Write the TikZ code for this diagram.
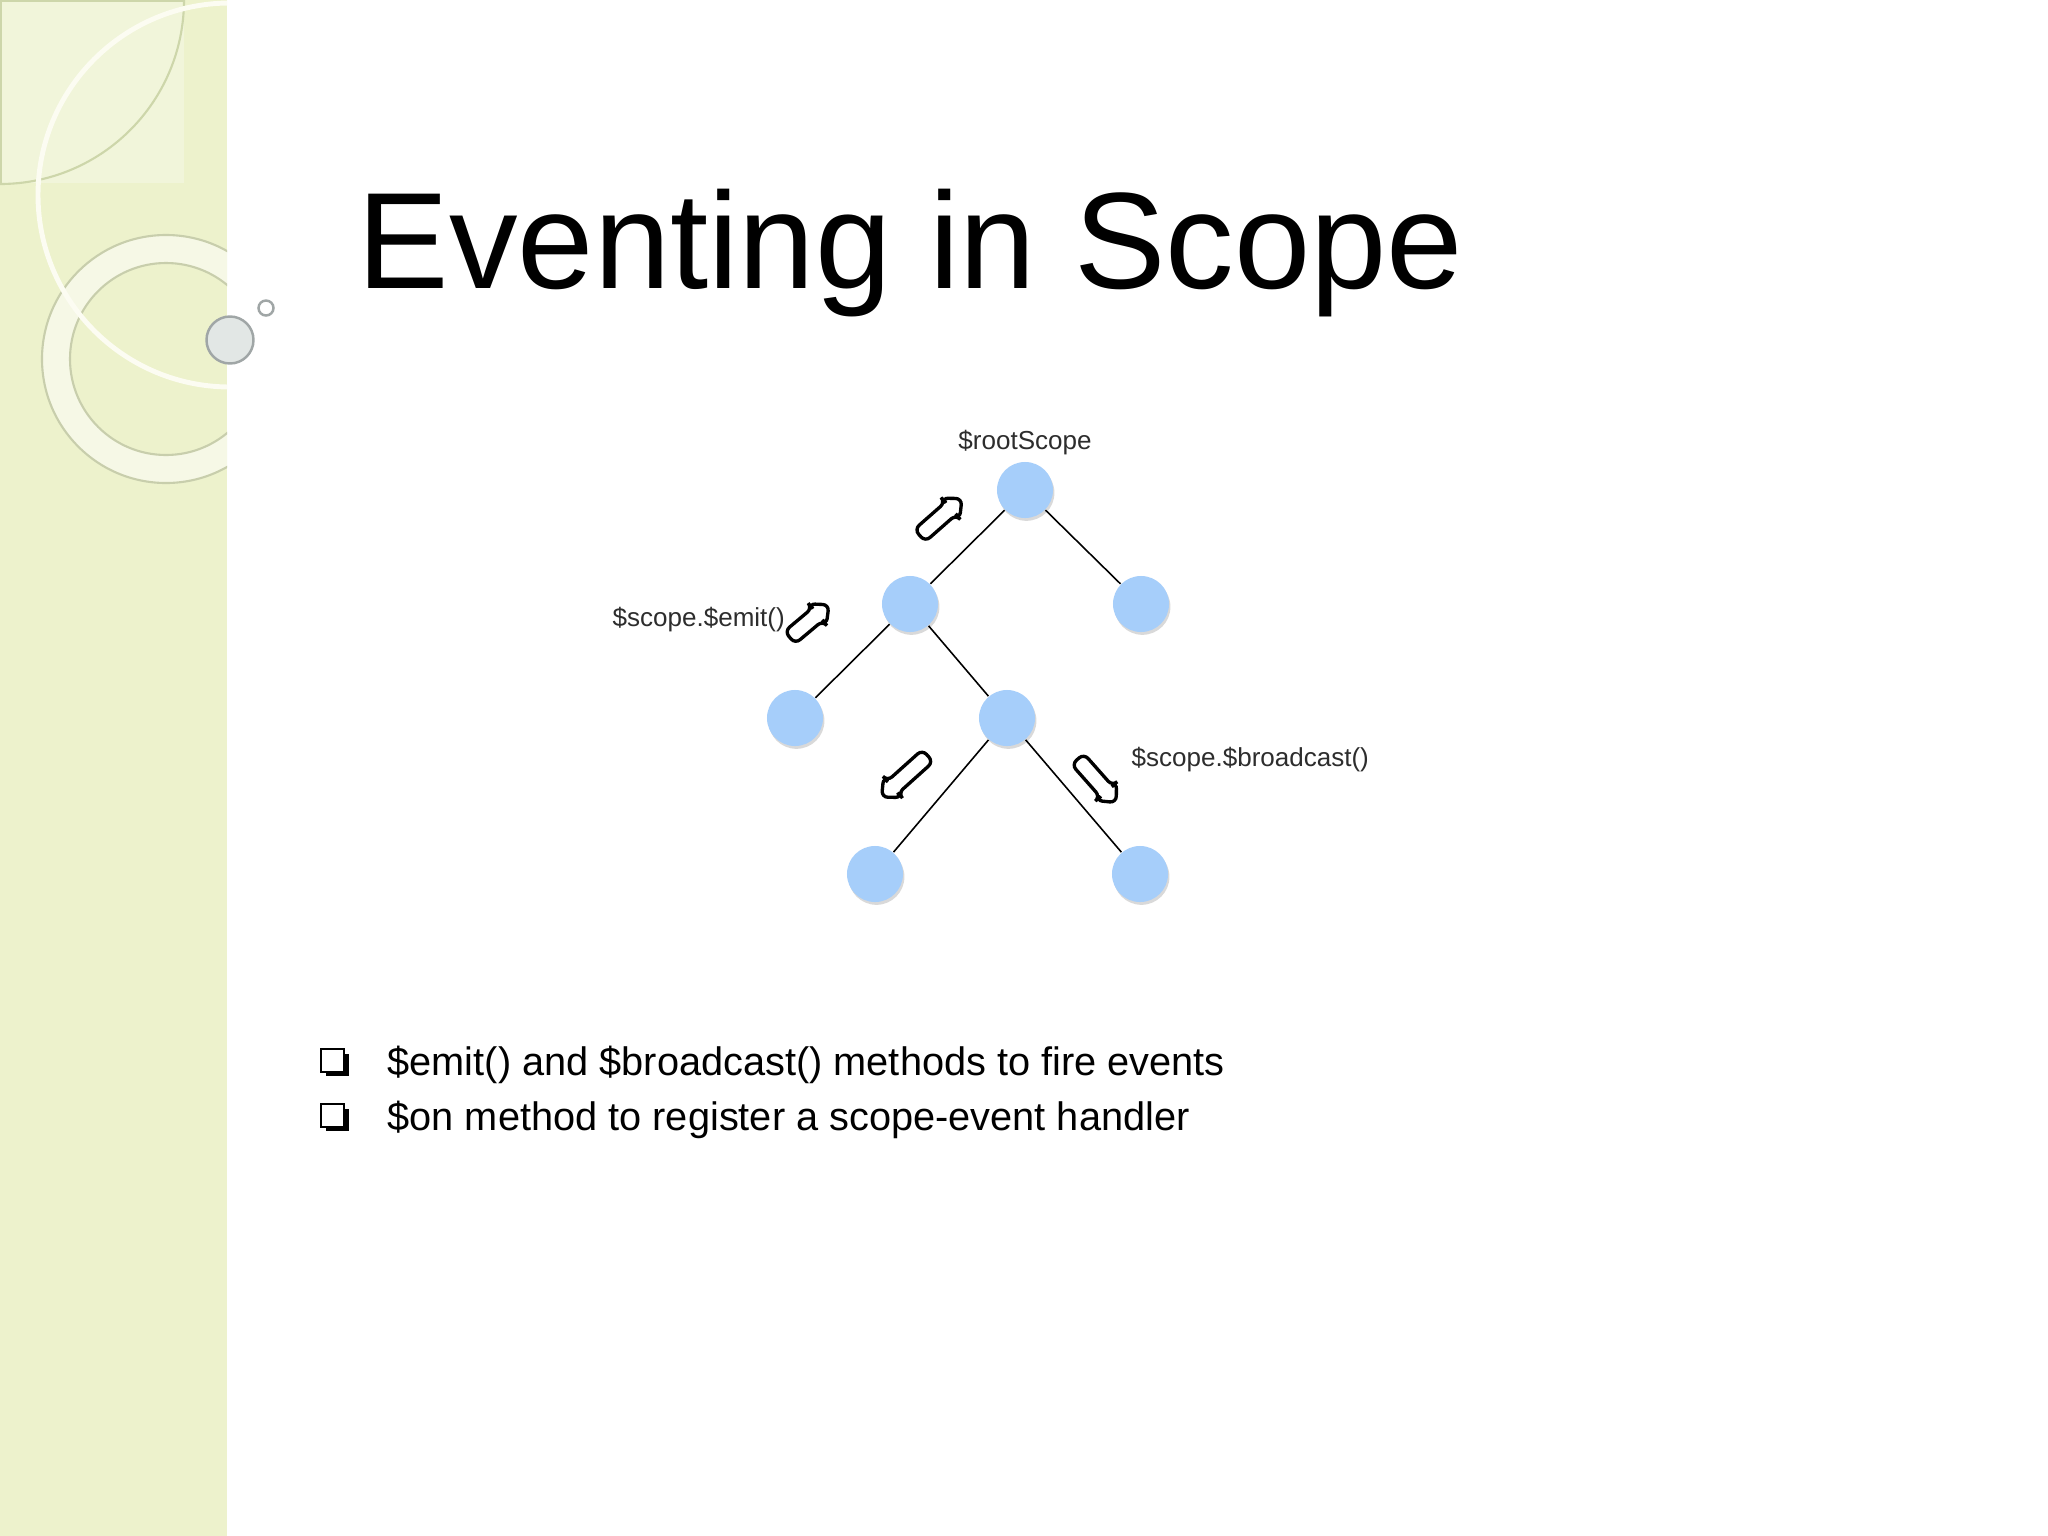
\documentclass[tikz,border=0pt]{standalone}
\usepackage{fontspec}
\setmainfont{Liberation Sans}
\usetikzlibrary{shapes.arrows,shadows}
\definecolor{side}{RGB}{237,242,204}
\definecolor{sqfill}{RGB}{241,245,218}
\definecolor{sqline}{RGB}{205,214,170}
\definecolor{ringfill}{RGB}{246,248,230}
\definecolor{ringline}{RGB}{200,206,172}
\definecolor{arcwhite}{RGB}{252,252,242}
\definecolor{ballfill}{RGB}{226,231,229}
\definecolor{ballline}{RGB}{160,166,166}
\definecolor{nodeblue}{RGB}{166,206,250}
\definecolor{lblgray}{RGB}{45,45,45}
\tikzset{
  ball/.style={circle, fill=nodeblue, minimum size=0.56cm, inner sep=0pt,
    drop shadow={shadow xshift=0.4pt, shadow yshift=-0.8pt, opacity=0.15, fill=black}},
  edge/.style={draw=black, line width=0.45pt},
  lbl/.style={font=\fontsize{7.4pt}{9pt}\selectfont, text=lblgray, inner sep=0pt},
  barrow/.style={single arrow, draw=black, fill=white, line width=0.95pt,
    minimum width=0.25cm, inner sep=0.065cm, single arrow head extend=0.055cm,
    single arrow tip angle=85, rounded corners=1.8pt},
  bullettext/.style={font=\fontsize{11.3pt}{13pt}\selectfont, anchor=base west, inner sep=0pt},
  checkbox/.style={draw=black, line width=0.35pt, fill=white}
}
\begin{document}
\begin{tikzpicture}[x=0.01cm,y=-0.01cm]
\useasboundingbox (0,0) rectangle (2048,1536);
\fill[white] (0,0) rectangle (2048,1536);
% sidebar
\fill[side] (0,0) rectangle (227,1536);
\begin{scope}
  \clip (0,0) rectangle (227,1536);
  \fill[sqfill] (0,0) rectangle (184,183);
  \draw[sqline, line width=0.6pt] (0,1) -- (184,1);
  \draw[sqline, line width=0.6pt] (1,0) -- (1,183);
  \draw[sqline, line width=0.6pt] (0,0) circle (184);
  \fill[ringfill, even odd rule] (166,359) circle (124) (166,359) circle (96);
  \draw[ringline, line width=0.6pt] (166,359) circle (124);
  \draw[ringline, line width=0.6pt] (166,359) circle (96);
  \draw[arcwhite, line width=1.4pt] (230,195) circle (192);
\end{scope}
\filldraw[fill=ballfill, draw=ballline, line width=0.7pt] (230,340) circle (23.5);
\filldraw[fill=white, draw=ballline, line width=0.7pt] (266,308) circle (7.5);
% title
\node[anchor=base west, inner sep=0pt, font=\fontsize{39pt}{46pt}\selectfont] (title) at (357,288) {Eventing in Scope};
% tree
\node[ball] (root) at (1025,490) {};
\node[ball] (a) at (910,604) {};
\node[ball] (b) at (1141,604) {};
\node[ball] (c) at (795,718) {};
\node[ball] (d) at (1007,718) {};
\node[ball] (e) at (875,874) {};
\node[ball] (f) at (1140,874) {};
\draw[edge] (root) -- (a);
\draw[edge] (root) -- (b);
\draw[edge] (a) -- (c);
\draw[edge] (a) -- (d);
\draw[edge] (d) -- (e);
\draw[edge] (d) -- (f);
% labels
\node[lbl] (lroot) at (1025,443) {\$rootScope};
\node[lbl, anchor=west] (lemit) at (612,620) {\$scope.\$emit()};
\node[lbl, anchor=west] (lbc) at (1131,760) {\$scope.\$broadcast()};
% block arrows
\node[barrow, rotate=41.3, minimum height=0.56cm] (ar1) at (937.5,520) {};
\node[barrow, rotate=40, minimum height=0.51cm] (ar2) at (806,624) {};
\node[barrow, rotate=221.9, minimum height=0.62cm] (ar3) at (908,773.5) {};
\node[barrow, rotate=-48.5, minimum height=0.58cm] (ar4) at (1094,777.5) {};
% bullets
\fill[black] (326,1054) rectangle (349,1076);
\draw[checkbox] (321,1049) rectangle (344,1072);
\node[bullettext] (t1) at (387,1075) {\$emit() and \$broadcast() methods to fire events};
\fill[black] (326,1109) rectangle (349,1131);
\draw[checkbox] (321,1104) rectangle (344,1127);
\node[bullettext] (t2) at (387,1130) {\$on method to register a scope-event handler};
\end{tikzpicture}
\end{document}
